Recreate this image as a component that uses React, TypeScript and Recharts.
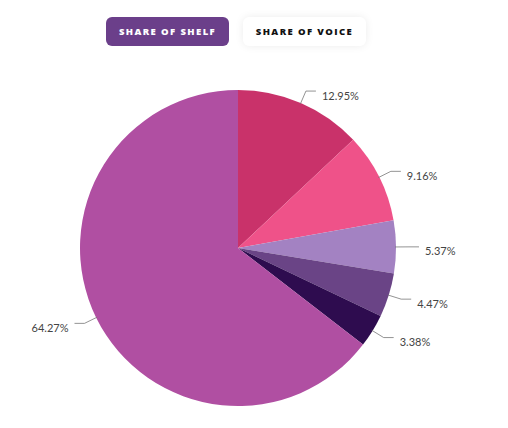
import { PieChart, Pie, Cell } from "recharts";

const segments = ["Brand A", "Brand B", "Brand C", "Brand D", "Brand E", "Others"];
const shares = [12.95, 9.16, 5.37, 4.47, 3.38, 64.27];
const COLORS = ["#C9326A", "#EF5289", "#A382C2", "#6A4486", "#2E0C4F", "#B04FA2"];

const tabs = ["SHARE OF SHELF", "SHARE OF VOICE"];

const data = segments.map((name, i) => ({ name, value: shares[i] }));

const RAD = Math.PI / 180;

function renderLabel(props: any) {
  const { cx, cy, midAngle, outerRadius, value } = props;
  const cos = Math.cos(-midAngle * RAD);
  const sin = Math.sin(-midAngle * RAD);
  const sx = cx + (outerRadius - 1) * cos;
  const sy = cy + (outerRadius - 1) * sin;
  const mx = cx + (outerRadius + 13) * cos;
  const my = cy + (outerRadius + 13) * sin;
  const right = cos >= 0;
  const ex = mx + (right ? 10 : -10);
  const tx = ex + (right ? 6 : -6);
  return (
    <g>
      <path
        d={`M${sx},${sy}L${mx},${my}L${ex},${my}`}
        stroke="#777"
        strokeWidth={0.8}
        fill="none"
      />
      <text
        x={tx}
        y={my + 4}
        textAnchor={right ? "start" : "end"}
        dominantBaseline="central"
        fontSize={11}
        fill="#444"
        fontFamily="Lato, 'Open Sans', sans-serif"
      >
        {value.toFixed(2)}%
      </text>
    </g>
  );
}

export default function App() {
  return (
    <div style={{ position: "relative", width: 492, height: 412, background: "#fff" }}>
      <div style={{ position: "absolute", left: 98, top: 9, display: "flex", gap: 14 }}>
        {tabs.map((t, i) => (
          <div
            key={t}
            style={{
              width: 123,
              height: 29,
              borderRadius: 6,
              background: i === 0 ? "#6B3F8A" : "#fff",
              color: i === 0 ? "#fff" : "#111",
              boxShadow: i === 0 ? "none" : "0 0 8px rgba(0,0,0,0.08)",
              display: "flex",
              alignItems: "center",
              justifyContent: "center",
              fontFamily: "'Open Sans', sans-serif",
              fontWeight: 800,
              fontSize: 9.5,
              letterSpacing: 1.4,
            }}
          >
            {t}
          </div>
        ))}
      </div>
      <PieChart width={492} height={412} style={{ position: "absolute", left: 0, top: 0 }}>
        <Pie
          data={data}
          dataKey="value"
          nameKey="name"
          cx={225}
          cy={235}
          outerRadius={158}
          startAngle={90}
          endAngle={-270}
          stroke="none"
          label={renderLabel}
          labelLine={false}
          isAnimationActive={false}
        >
          {data.map((_, i) => (
            <Cell key={i} fill={COLORS[i]} />
          ))}
        </Pie>
      </PieChart>
    </div>
  );
}
